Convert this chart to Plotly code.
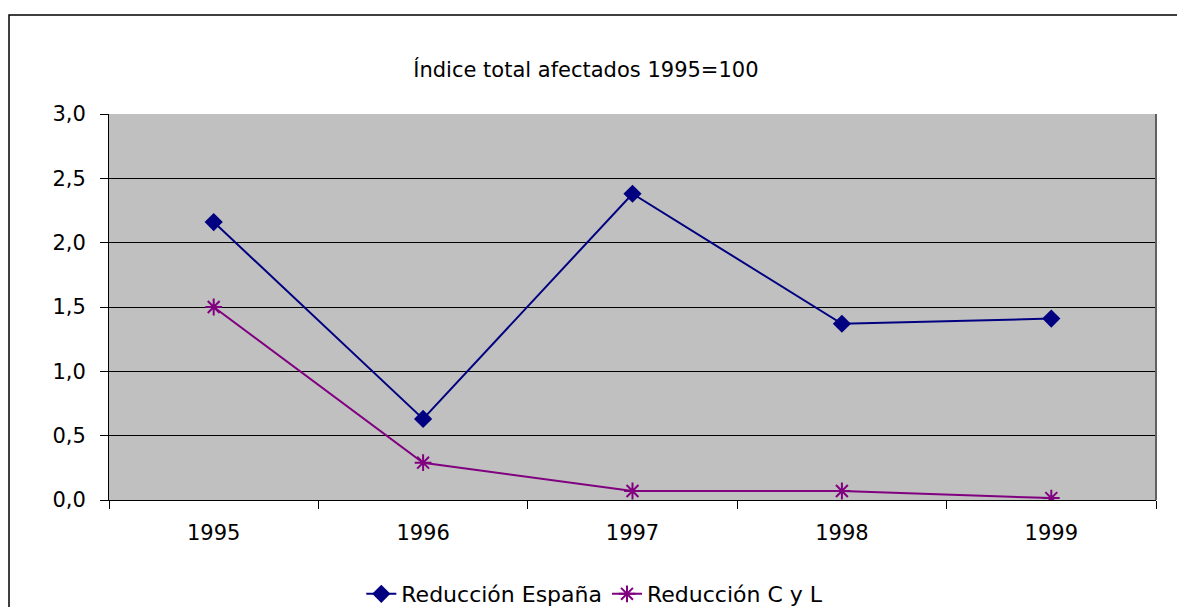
import plotly.graph_objects as go

years = ["1995", "1996", "1997", "1998", "1999"]
espana = [2.16, 0.63, 2.38, 1.37, 1.41]
cyl = [1.50, 0.29, 0.07, 0.07, 0.015]

FONT = "DejaVu Sans, Verdana, sans-serif"

fig = go.Figure()

fig.add_trace(go.Scatter(
    x=years, y=espana, mode="lines+markers", name="Reducción España",
    line=dict(color="#000080", width=2),
    marker=dict(symbol="diamond", size=14, color="#000080"),
))
fig.add_trace(go.Scatter(
    x=years, y=cyl, mode="lines+markers", name="Reducción C y L",
    line=dict(color="#800080", width=2),
    marker=dict(symbol="asterisk-open", size=14, color="#800080",
                line=dict(color="#800080", width=2)),
))

# outer chart frame (runs off the right and bottom edges)
fig.add_shape(type="rect", xref="paper", yref="paper",
              x0=-0.0955, x1=1.06, y0=-0.4, y1=1.2565,
              line=dict(color="#000000", width=1.5), fillcolor="rgba(0,0,0,0)",
              layer="below")

# page body has an 8px margin, so the figure is shifted by 8px
fig.update_layout(
    width=1177, height=599,
    paper_bgcolor="white",
    plot_bgcolor="#C0C0C0",
    separators=",.",
    margin=dict(l=101, r=29, t=106, b=107, autoexpand=False),
    font=dict(family=FONT, color="#000000", size=20),
    title=dict(text="Índice total afectados 1995=100", x=0.491, xanchor="center",
               y=1 - 62 / 599, yanchor="middle",
               font=dict(family=FONT, size=21, color="#000000")),
    xaxis=dict(
        type="category", range=[-0.5, 4.5], tickson="boundaries",
        ticks="outside", ticklen=8, tickcolor="#000000",
        showline=True, linecolor="#000000", linewidth=1, mirror=False,
        showgrid=False, tickfont=dict(size=21), fixedrange=True,
        ticklabelstandoff=14,
    ),
    yaxis=dict(
        range=[0, 3], dtick=0.5, tickformat=".1f",
        ticks="outside", ticklen=8, tickcolor="#000000",
        showline=True, linecolor="#000000", linewidth=1,
        showgrid=True, gridcolor="#000000", gridwidth=1,
        zeroline=False, tickfont=dict(size=21), ticklabelstandoff=10,
    ),
    legend=dict(orientation="h", x=0.464, xanchor="center",
                yref="container", y=1 - 586 / 599, yanchor="middle",
                font=dict(size=22), bgcolor="rgba(0,0,0,0)"),
    showlegend=True,
)

# right border of plot area
fig.add_shape(type="line", xref="paper", yref="paper", x0=1, x1=1, y0=0, y1=1,
              line=dict(color="#606060", width=2))

fig.write_html("out.html")
